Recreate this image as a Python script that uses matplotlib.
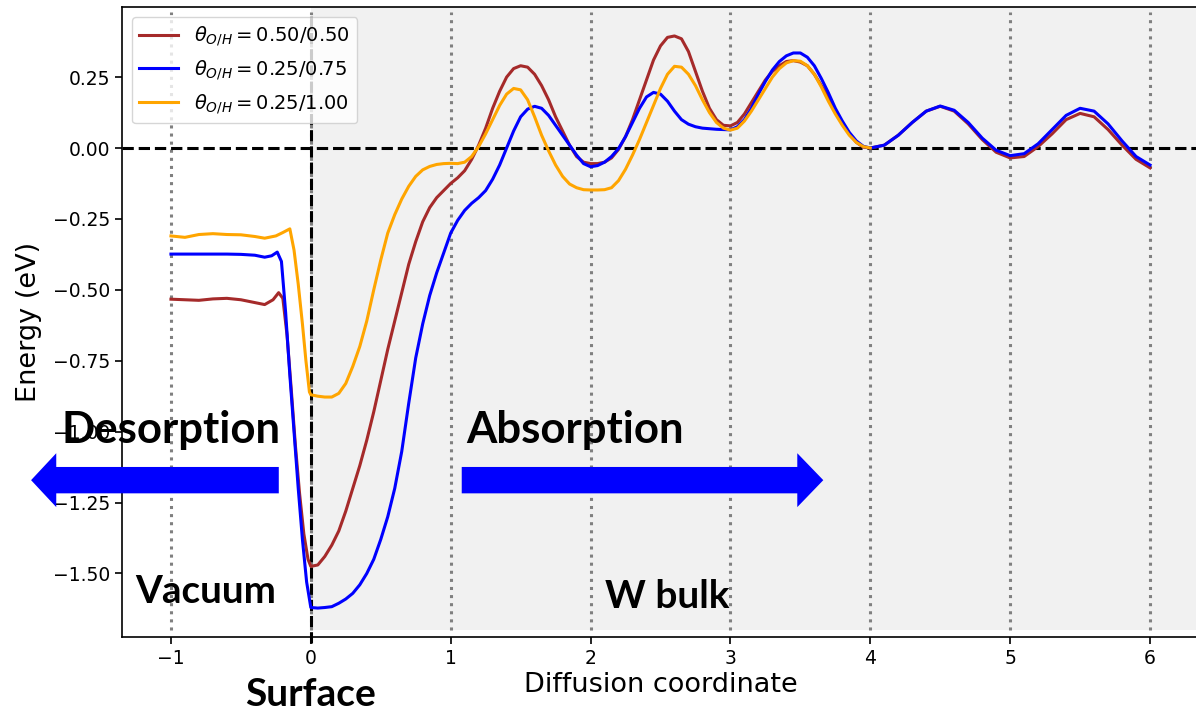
import numpy as np
import matplotlib.pyplot as plt
from matplotlib.patches import FancyArrow

# ---- data ----
x_050 = [-1.0, -0.9, -0.8, -0.7, -0.6, -0.5, -0.4, -0.33, -0.27, -0.23, -0.2, -0.17, -0.14, -0.11,
         -0.08, -0.05, -0.02, 0.0, 0.05, 0.1, 0.15, 0.2, 0.25, 0.3, 0.35, 0.4, 0.45, 0.5, 0.55, 0.6,
         0.65, 0.7, 0.75, 0.8, 0.85, 0.9, 0.95, 1.0, 1.05, 1.1, 1.15, 1.2, 1.25, 1.3, 1.35, 1.4, 1.45,
         1.5, 1.55, 1.6, 1.65, 1.7, 1.75, 1.8, 1.85, 1.9, 1.95, 2.0, 2.05, 2.1, 2.15, 2.2, 2.25, 2.3,
         2.35, 2.4, 2.45, 2.5, 2.55, 2.6, 2.65, 2.7, 2.75, 2.8, 2.85, 2.9, 2.95, 3.0, 3.05, 3.1, 3.15,
         3.2, 3.25, 3.3, 3.35, 3.4, 3.45, 3.5, 3.55, 3.6, 3.65, 3.7, 3.75, 3.8, 3.85, 3.9, 3.95, 4.0,
         4.1, 4.2, 4.3, 4.4, 4.5, 4.6, 4.7, 4.8, 4.9, 5.0, 5.1, 5.2, 5.3, 5.4, 5.5, 5.6, 5.7, 5.8,
         5.9, 6.0]
e_050 = [-0.533, -0.535, -0.537, -0.532, -0.530, -0.535, -0.545, -0.552, -0.535, -0.510, -0.530,
         -0.660, -0.850, -1.050, -1.220, -1.360, -1.450, -1.475, -1.470, -1.440, -1.400, -1.350,
         -1.280, -1.200, -1.120, -1.030, -0.930, -0.820, -0.710, -0.610, -0.510, -0.410, -0.330,
         -0.260, -0.210, -0.175, -0.150, -0.125, -0.105, -0.080, -0.040, 0.010, 0.070, 0.140, 0.200,
         0.250, 0.280, 0.290, 0.285, 0.260, 0.220, 0.170, 0.110, 0.060, 0.010, -0.030, -0.050,
         -0.055, -0.055, -0.050, -0.035, -0.005, 0.040, 0.100, 0.170, 0.240, 0.310, 0.360, 0.390,
         0.395, 0.385, 0.340, 0.270, 0.200, 0.140, 0.100, 0.080, 0.078, 0.090, 0.120, 0.160, 0.200,
         0.240, 0.270, 0.290, 0.305, 0.308, 0.303, 0.290, 0.260, 0.220, 0.180, 0.130, 0.090, 0.050,
         0.020, 0.003, 0.000, 0.010, 0.045, 0.090, 0.130, 0.147, 0.130, 0.085, 0.030, -0.015,
         -0.035, -0.030, 0.005, 0.050, 0.100, 0.122, 0.110, 0.065, 0.010, -0.040, -0.070]

x_025 = [-1.0, -0.9, -0.8, -0.7, -0.6, -0.5, -0.4, -0.33, -0.28, -0.24, -0.21, -0.18, -0.15, -0.12,
         -0.09, -0.06, -0.03, 0.0, 0.05, 0.1, 0.15, 0.2, 0.25, 0.3, 0.35, 0.4, 0.45, 0.5, 0.55, 0.6,
         0.65, 0.7, 0.75, 0.8, 0.85, 0.9, 0.95, 1.0, 1.05, 1.1, 1.15, 1.2, 1.25, 1.3, 1.35, 1.4, 1.45,
         1.5, 1.55, 1.6, 1.65, 1.7, 1.75, 1.8, 1.85, 1.9, 1.95, 2.0, 2.05, 2.1, 2.15, 2.2, 2.25, 2.3,
         2.35, 2.4, 2.45, 2.5, 2.55, 2.6, 2.65, 2.7, 2.75, 2.8, 2.9, 3.0, 3.05, 3.1, 3.15, 3.2, 3.25,
         3.3, 3.35, 3.4, 3.45, 3.5, 3.55, 3.6, 3.65, 3.7, 3.75, 3.8, 3.85, 3.9, 3.95, 4.0, 4.1, 4.2,
         4.3, 4.4, 4.5, 4.6, 4.7, 4.8, 4.9, 5.0, 5.1, 5.2, 5.3, 5.4, 5.5, 5.6, 5.7, 5.8, 5.9, 6.0]
e_025 = [-0.374, -0.374, -0.374, -0.374, -0.374, -0.375, -0.378, -0.385, -0.380, -0.367, -0.400,
         -0.580, -0.800, -1.000, -1.200, -1.380, -1.530, -1.620, -1.622, -1.620, -1.617, -1.605,
         -1.590, -1.570, -1.540, -1.500, -1.450, -1.380, -1.300, -1.200, -1.070, -0.900, -0.740,
         -0.620, -0.520, -0.440, -0.370, -0.300, -0.255, -0.220, -0.195, -0.175, -0.150, -0.110,
         -0.060, 0.000, 0.060, 0.110, 0.137, 0.147, 0.140, 0.115, 0.080, 0.045, 0.010, -0.025,
         -0.055, -0.066, -0.062, -0.050, -0.030, -0.002, 0.040, 0.090, 0.140, 0.180, 0.196, 0.190,
         0.165, 0.130, 0.100, 0.084, 0.075, 0.070, 0.066, 0.064, 0.075, 0.100, 0.140, 0.190, 0.235,
         0.275, 0.305, 0.325, 0.335, 0.335, 0.320, 0.290, 0.245, 0.195, 0.140, 0.095, 0.055, 0.025,
         0.006, 0.000, 0.010, 0.045, 0.090, 0.130, 0.148, 0.133, 0.090, 0.035, -0.008, -0.027,
         -0.020, 0.015, 0.065, 0.115, 0.140, 0.130, 0.085, 0.025, -0.030, -0.060]

x_100 = [-1.0, -0.9, -0.8, -0.7, -0.6, -0.5, -0.4, -0.33, -0.25, -0.2, -0.15, -0.12, -0.09, -0.06,
         -0.035, -0.01, 0.0, 0.05, 0.1, 0.15, 0.2, 0.25, 0.3, 0.35, 0.4, 0.45, 0.5, 0.55, 0.6, 0.65,
         0.7, 0.75, 0.8, 0.85, 0.9, 0.95, 1.0, 1.05, 1.1, 1.15, 1.2, 1.25, 1.3, 1.35, 1.4, 1.45, 1.5,
         1.55, 1.6, 1.65, 1.7, 1.75, 1.8, 1.85, 1.9, 1.95, 2.0, 2.05, 2.1, 2.15, 2.2, 2.25, 2.3, 2.35,
         2.4, 2.45, 2.5, 2.55, 2.6, 2.65, 2.7, 2.75, 2.8, 2.85, 2.9, 2.95, 3.0, 3.05, 3.1, 3.15, 3.2,
         3.25, 3.3, 3.35, 3.4, 3.45, 3.5, 3.55, 3.6, 3.65, 3.7, 3.75, 3.8, 3.85, 3.9, 3.95, 4.0]
e_100 = [-0.310, -0.315, -0.305, -0.302, -0.305, -0.306, -0.312, -0.318, -0.310, -0.298, -0.285,
         -0.360, -0.480, -0.620, -0.750, -0.860, -0.870, -0.875, -0.878, -0.878, -0.865, -0.830,
         -0.770, -0.700, -0.610, -0.500, -0.395, -0.300, -0.235, -0.180, -0.135, -0.100, -0.077,
         -0.065, -0.058, -0.055, -0.054, -0.055, -0.050, -0.030, 0.005, 0.050, 0.100, 0.150, 0.190,
         0.210, 0.205, 0.170, 0.110, 0.045, -0.010, -0.060, -0.100, -0.127, -0.140, -0.147, -0.148,
         -0.148, -0.147, -0.140, -0.115, -0.075, -0.025, 0.030, 0.090, 0.150, 0.210, 0.260, 0.288,
         0.285, 0.260, 0.220, 0.170, 0.125, 0.090, 0.070, 0.063, 0.070, 0.095, 0.130, 0.170, 0.210,
         0.250, 0.280, 0.300, 0.308, 0.306, 0.290, 0.260, 0.215, 0.165, 0.120, 0.080, 0.045, 0.020,
         0.005, 0.000]

series = [
    (x_050, e_050, 'brown', r'$\theta_{O/H} = 0.50/0.50$'),
    (x_025, e_025, 'blue', r'$\theta_{O/H} = 0.25/0.75$'),
    (x_100, e_100, 'orange', r'$\theta_{O/H} = 0.25/1.00$'),
]
grid_x = [-1, 0, 1, 2, 3, 4, 5, 6]

fig = plt.figure(figsize=(11.96, 7.1), dpi=100)
ax = fig.add_axes([0.102, 0.1028, 0.9005, 0.8873])

# shaded bulk region
ax.fill_between([0, 6.6], -1.7, 0.6, color='lightgray', alpha=0.3, lw=0, zorder=0)
ax.vlines(grid_x, -1.7, 0.48, colors='gray', linestyles=':', lw=2.2, zorder=1)
ax.axhline(0, color='black', ls='--', lw=2.2, zorder=2)
ax.plot([0, 0], [-1.745, 0.48], color='black', ls='--', lw=2.2, clip_on=False, zorder=2)

for xs, ys, c, lab in series:
    ax.plot(xs, ys, color=c, lw=2.2, label=lab, zorder=3)

ax.set_xlim(-1.35, 6.35)
ax.set_ylim(-1.724, 0.497)
ax.set_xticks(grid_x)
ax.set_yticks([-1.5, -1.25, -1.0, -0.75, -0.5, -0.25, 0.0, 0.25])
ax.tick_params(labelsize=13.5, length=5, width=1.2)
for s in ax.spines.values():
    s.set_linewidth(1.2)
ax.set_xlabel('Diffusion coordinate', fontsize=19.5, labelpad=3)
ax.set_ylabel('Energy (eV)', fontsize=19.5, labelpad=8)
ax.legend(loc='upper left', fontsize=14, handlelength=2.0, borderaxespad=0.5)

# annotations
big = dict(family='Lato', weight='bold', ha='center', va='baseline', clip_on=False, zorder=5)
ax.text(-1.0, -1.04, 'Desorption', fontsize=31.5, **big)
ax.text(1.886, -1.04, 'Absorption', fontsize=31.5, **big)
ax.text(-0.75, -1.604, 'Vacuum', fontsize=27.8, **big)
ax.text(2.55, -1.62, 'W bulk', fontsize=28, **big)
fig.text(311 / 1196, 1 - 706 / 710, 'Surface', fontsize=28, family='Lato', weight='bold',
         ha='center', va='baseline')

ax.add_patch(FancyArrow(-0.229, -1.171, -1.771, 0, width=0.093, head_width=0.19, head_length=0.18,
                        length_includes_head=True, color='blue', lw=0, clip_on=False, zorder=4))
ax.add_patch(FancyArrow(1.079, -1.171, 2.585, 0, width=0.093, head_width=0.19, head_length=0.186,
                        length_includes_head=True, color='blue', lw=0, clip_on=False, zorder=4))

fig.savefig('out.png', dpi=100)
